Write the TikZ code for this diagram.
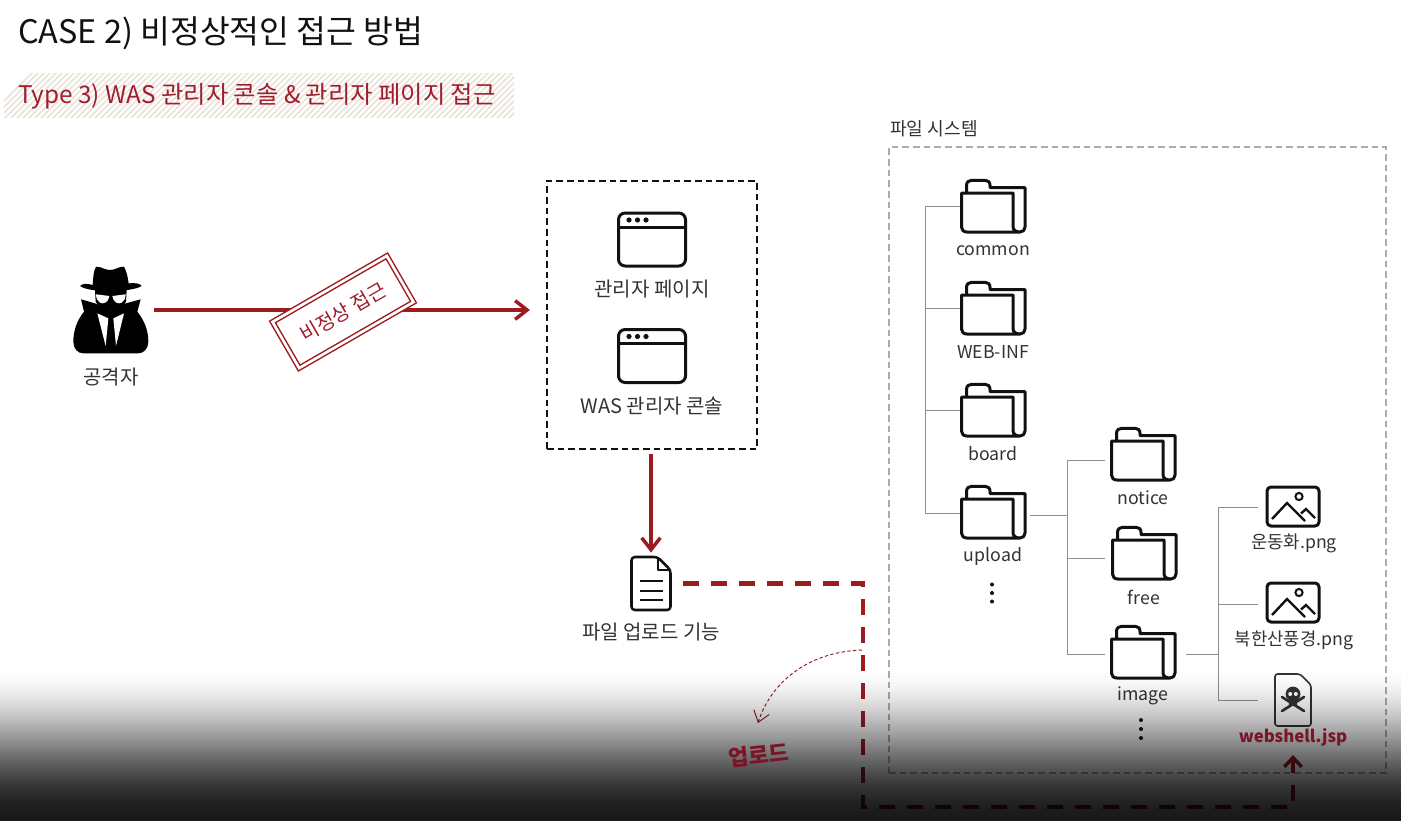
\documentclass[tikz,border=0pt]{standalone}
\usepackage{fontspec}
\setmainfont{Noto Sans CJK KR}
\usetikzlibrary{arrows.meta,calc}
\definecolor{ink}{HTML}{111111}
\definecolor{txt}{HTML}{333333}
\definecolor{crim}{HTML}{9C1B1F}
\definecolor{wine}{HTML}{A01D2E}
\definecolor{deepwine}{HTML}{7A1428}
\definecolor{hatch}{HTML}{ECE2D5}
\definecolor{treeg}{HTML}{8F8F8F}
\definecolor{boxg}{HTML}{ABABAB}
\tikzset{
  lbl/.style={inner sep=0pt,text=txt,font=\fontsize{15pt}{17pt}\selectfont},
  flbl/.style={inner sep=0pt,text=txt,font=\fontsize{13.3pt}{15pt}\selectfont},
  icon/.style={draw=ink,line width=2.25pt,line join=round},
  foldn/.style={inner sep=0pt,minimum width=49.5pt,minimum height=39pt},
  winn/.style={inner sep=0pt,minimum width=50pt,minimum height=39.5pt},
  imgn/.style={inner sep=0pt,minimum width=39pt,minimum height=29.5pt},
  tree/.style={draw=treeg,line width=0.7pt},
  redarrow/.style={draw=crim,line width=3pt,-{Straight Barb[length=9pt,width=14pt,line width=2.6pt]}},
  updash/.style={draw=crim,line width=3.2pt,dash pattern=on 12pt off 9pt,-{Straight Barb[length=7pt,width=13pt,line width=2.6pt]}},
  pics/folder/.style={code={
    \draw[icon] (-26.5,-13) -- (-26.5,-20.7) .. controls (-26.5,-24) and (-24,-25.7) .. (-21.5,-25.7)
       -- (-8,-25.7) .. controls (-5,-25.7) and (-3,-24) .. (-3,-20.7) -- (-3,-18.3) -- (32,-18.3) -- (32,21)
       .. controls (32,24) and (30,26) .. (27,26) -- (-26,26) .. controls (-29.5,26) and (-31.5,24) .. (-31.5,21)
       -- (-31.5,-13) -- (20,-13) -- (20,21) .. controls (20,24) and (23,26) .. (27,26);
  }},
  pics/window/.style={code={
    \draw[icon,rounded corners=5pt] (-33.5,-26.5) rectangle (33.5,26.5);
    \draw[icon] (-33.5,-12.5) -- (33.5,-12.5);
    \fill[ink] (-23,-19.5) circle[radius=2.6] (-14.5,-19.5) circle[radius=2.6] (-6,-19.5) circle[radius=2.6];
  }},
  pics/picture/.style={code={
    \draw[icon,rounded corners=3pt] (-26,-19.5) rectangle (26,19.5);
    \draw[draw=ink,line width=1.5pt] (6,-10) circle[radius=3.6];
    \draw[draw=ink,line width=1.8pt,line join=miter] (-21,12.5) -- (-6,-3.5) -- (12,14.5);
    \draw[draw=ink,line width=1.8pt,line join=miter] (8,7) -- (13,2.5) -- (22,11.5);
  }},
}
\begin{document}
\begin{tikzpicture}[x=0.75pt,y=-0.75pt]
\useasboundingbox (0,0) rectangle (1401,821);
\fill[white] (0,0) rectangle (1401,821);
% title
\node[inner sep=0pt,anchor=west,text=ink,font=\fontsize{24.3pt}{28pt}\selectfont] (title) at (18,33.5) {CASE 2) 비정상적인 접근 방법};
% band
\begin{scope}
\clip (4,73) rectangle (514,117);
\foreach \k in {-20,-14,...,560}{\draw[hatch,line width=1.1pt] (\k,125) -- (\k+60,65);}
\end{scope}
\node[inner sep=0pt,anchor=west,text=wine,font=\fontsize{18.2pt}{22pt}\selectfont] (type) at (18,96) {Type 3) WAS 관리자 콘솔 \& 관리자 페이지 접근};
% spy
\node[inner sep=0pt,minimum width=66pt,minimum height=66pt] (spy) at (110,310) {};
\begin{scope}[shift={(60,240)},x=0.25pt,y=-0.25pt]
\fill[black] (98,135) .. controls (100,110) and (100,95) .. (108,80) .. controls (125,80) and (135,90) .. (150,90)
  .. controls (165,90) and (175,80) .. (192,80) .. controls (200,95) and (203,110) .. (206,130)
  .. controls (225,128) and (240,130) .. (245,138) .. controls (215,157) and (90,160) .. (60,138) .. controls (68,130) and (80,130) .. (98,135) -- cycle;
\fill[black] (105,150) -- (200,150) -- (198,185) .. controls (190,205) and (170,212) .. (152,212) .. controls (135,212) and (115,205) .. (107,185) -- cycle;
\fill[black] (63,178) -- (105,190) -- (150,212) -- (198,190) -- (242,178) -- (232,215)
  .. controls (252,240) and (265,270) .. (265,305) .. controls (265,325) and (252,340) .. (235,340)
  -- (70,340) .. controls (52,340) and (40,325) .. (40,305) .. controls (40,270) and (52,240) .. (72,215) -- cycle;
\fill[white] (108,163) -- (148,168) .. controls (146,187) and (130,194) .. (120,188) .. controls (113,184) and (108,175) .. (108,163) -- cycle;
\fill[white] (197,163) -- (157,168) .. controls (159,187) and (175,194) .. (185,188) .. controls (192,184) and (197,175) .. (197,163) -- cycle;
\fill[white] (112,220) -- (145,235) -- (137,318) -- cycle;
\fill[white] (192,220) -- (160,235) -- (168,318) -- cycle;
\end{scope}
\node[lbl] (spyl) at (111,377) {공격자};
% admin box
\node[inner sep=0pt,minimum width=157.5pt,minimum height=201pt,draw=ink,line width=1.6pt,dash pattern=on 5pt off 3pt] (box) at (652,315) {};
\node[winn] (win1) at (652,239.5) {};
\pic at (win1) {window};
\node[lbl] (win1l) at (652,289) {관리자 페이지};
\node[winn] (win2) at (652,356) {};
\pic at (win2) {window};
\node[lbl] (win2l) at (652,406) {WAS 관리자 콘솔};
% main arrow + stamp
\draw[redarrow,shorten >=12pt] (spy.east) -- (spy.east -| box.west);
\node[inner sep=0pt,rotate=30,fill=white,draw=crim,line width=1.1pt,double,double distance=2pt,minimum width=99pt,minimum height=40pt,text=wine,font=\fontsize{14.9pt}{17pt}\selectfont] (stamp) at (343,312) {비정상 접근};
% doc
\node[inner sep=0pt,minimum width=29pt,minimum height=39pt] (doc) at (651,583.5) {};
\begin{scope}[shift={(doc.center)}]
\draw[icon,line width=1.9pt,rounded corners=2.5pt] (-19.5,-26.5) -- (6.5,-26.5) -- (19.5,-13.5) -- (19.5,26.5) -- (-19.5,26.5) -- cycle;
\draw[icon,line width=1.5pt] (6.5,-26.5) -- (6.5,-13.5) -- (19.5,-13.5);
\draw[icon,line width=1.5pt] (-11.5,-2.5) -- (11.5,-2.5) (-11.5,7) -- (11.5,7) (-11.5,16.5) -- (11.5,16.5);
\end{scope}
\node[lbl] (docl) at (651,632) {파일 업로드 기능};
\draw[redarrow,shorten <=3pt,shorten >=3.5pt] (doc.north |- box.south) -- (doc.north);
% file system
\node[inner sep=0pt,anchor=west,text=txt,font=\fontsize{13.6pt}{15pt}\selectfont] (fsl) at (890,129) {파일 시스템};
\node[inner sep=0pt,minimum width=372.75pt,minimum height=469.5pt,draw=boxg,line width=1.4pt,dash pattern=on 5pt off 3pt] (fs) at (1137.5,460) {};
% folders
\node[foldn] (common) at (993,206) {}; \pic at (common) {folder};
\node[flbl] (commonl) at (993,250.5) {common};
\node[foldn] (webinf) at (993,308) {}; \pic at (webinf) {folder};
\node[flbl] (webinfl) at (993,352) {WEB-INF};
\node[foldn] (board) at (993,410) {}; \pic at (board) {folder};
\node[flbl] (boardl) at (993,454) {board};
\node[foldn] (upload) at (993,512) {}; \pic at (upload) {folder};
\node[flbl] (uploadl) at (993,556.5) {upload};
\node[foldn] (notice) at (1143,454) {}; \pic at (notice) {folder};
\node[flbl] (noticel) at (1143,498) {notice};
\node[foldn] (free) at (1144,553) {}; \pic at (free) {folder};
\node[flbl] (freel) at (1144,597) {free};
\node[foldn] (image) at (1143,652) {}; \pic at (image) {folder};
\node[flbl] (imagel) at (1143,696) {image};
\fill[ink] (992,584.5) circle[radius=2] (992,593) circle[radius=2] (992,601.5) circle[radius=2];
\fill[ink] (1141,720) circle[radius=2] (1141,729) circle[radius=2] (1141,738) circle[radius=2];
% pictures
\node[imgn] (shoe) at (1293,506.5) {}; \pic at (shoe) {picture};
\node[flbl] (shoel) at (1294,543) {운동화.png};
\node[imgn] (mount) at (1293,602.5) {}; \pic at (mount) {picture};
\node[flbl] (mountl) at (1294,640) {북한산풍경.png};
% shell file
\node[inner sep=0pt,minimum width=27pt,minimum height=39pt] (shell) at (1293,700) {};
\begin{scope}[shift={(shell.center)}]
\draw[draw=txt,line width=1.2pt,rounded corners=2pt] (-18,-26) -- (7,-26) -- (18,-15) -- (18,26) -- (-18,26) -- cycle;
\draw[txt,line width=2pt,line cap=round] (-11,-3) -- (11,11) (11,-3) -- (-11,11);
\fill[txt] (0,-6) circle[radius=7.4];
\fill[txt] (-4,-1) rectangle (4,6);
\fill[white] (-2.8,-6) circle[radius=2] (2.8,-6) circle[radius=2];
\end{scope}
% tree lines
\coordinate (ta) at (925,513);
\coordinate (tb) at (1067,515);
\coordinate (tc) at (1218.5,654);
\coordinate (n1) at (1105,460);
\coordinate (n2) at (1105,558);
\coordinate (n3) at (1105,654);
\coordinate (p1) at (1258,507);
\coordinate (p2) at (1258,604);
\coordinate (p3) at (1258,700);
\draw[tree] (common.west) -- (common.west -| ta) -- (ta) -- (ta -| upload.west);
\draw[tree] (webinf.west) -- (webinf.west -| ta);
\draw[tree] (board.west) -- (board.west -| ta);
\draw[tree,shorten <=3pt] (upload.east |- tb) -- (tb);
\draw[tree] (n1) -- (n1 -| tb) -- (n3 -| tb) -- (n3);
\draw[tree] (n2) -- (n2 -| tb);
\draw[tree,shorten <=7.5pt] (image.east |- tc) -- (tc);
\draw[tree] (p1) -- (p1 -| tc) -- (p3 -| tc) -- (p3);
\draw[tree] (p2) -- (p2 -| tc);
% upload path
\coordinate (ua) at (863,583.5);
\coordinate (ub) at (863,807);
\coordinate (uc) at (1293,807);
\coordinate (ud) at (1293,755);
\draw[updash,shorten <=9pt] (doc.east) -- (ua) -- (ub) -- (uc) -- (ud);
% thin note arrow
\coordinate (na) at (862,650);
\coordinate (nb) at (758,723);
\draw[draw=wine!90!black,line width=0.7pt,dash pattern=on 2.5pt off 1.8pt,-{Straight Barb[length=8pt,width=12pt,line width=0.7pt]}] (na) .. controls (805,652) and (770,685) .. (nb);
% bottom dusk
\foreach \yy in {665,...,820}{
  \pgfmathsetmacro{\tt}{(\yy+0.5-665)/156}
  \pgfmathsetmacro{\oo}{0.9*\tt*\tt*(3-2*\tt)}
  \fill[black,opacity=\oo] (-2,\yy) rectangle (1403,\yy+1);
}
% labels above the dusk
\node[inner sep=0pt,text=deepwine,font=\fontsize{12.6pt}{15pt}\selectfont\bfseries] (shelll) at (1293,737) {webshell.jsp};
\node[inner sep=0pt,rotate=6,text=deepwine,font=\fontsize{16.5pt}{18pt}\selectfont\bfseries] (notel) at (759,755) {업로드};
\end{tikzpicture}
\end{document}
